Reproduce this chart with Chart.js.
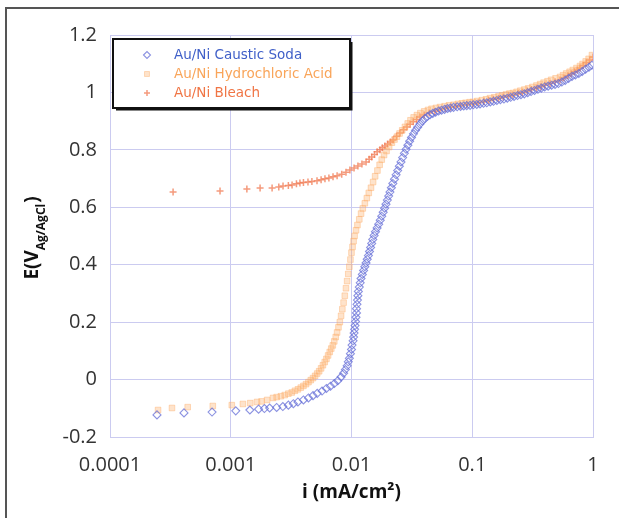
<!DOCTYPE html>
<html>
<head>
<meta charset="utf-8">
<script src="https://cdn.jsdelivr.net/npm/chart.js@4.4.1/dist/chart.umd.min.js"></script>
<style>
  html, body { margin: 0; padding: 0; background: #fff; }
  #wrap { width: 619px; height: 518px; position: relative; }
</style>
</head>
<body>
<div id="wrap"><canvas id="polar" width="619" height="518"></canvas></div>
<script>
// i (mA/cm2), E (V vs Ag/AgCl)
const causticSoda = [
  [0.000245,-0.123],[0.00041,-0.116],[0.0007,-0.113],[0.0011,-0.109],[0.00144,-0.106],
  [0.0017,-0.103],[0.0019,-0.101],[0.0021,-0.099],[0.0024,-0.097],[0.0027,-0.094],
  [0.003,-0.089],[0.0033,-0.084],[0.0036,-0.078],[0.004,-0.071],[0.0044,-0.064],
  [0.0048,-0.056],[0.0052,-0.048],[0.0057,-0.040],[0.0062,-0.031],[0.0067,-0.023],
  [0.0072,-0.014],[0.0077,-0.004],[0.0082,0.009],[0.0086,0.022],[0.0089,0.035],
  [0.0092,0.048],[0.0094,0.062],[0.0096,0.074],[0.0098,0.090],[0.0100,0.105],
  [0.0101,0.120],[0.0103,0.135],[0.0104,0.148],[0.0105,0.162],[0.0106,0.175],
  [0.0107,0.188],[0.0108,0.202],[0.0109,0.217],[0.0110,0.232],[0.0110,0.247],
  [0.0111,0.262],[0.0112,0.277],[0.0113,0.292],[0.0114,0.307],[0.0116,0.322],
  [0.0118,0.337],[0.0120,0.352],[0.0123,0.366],[0.0126,0.380],[0.0129,0.393],
  [0.0132,0.406],[0.0135,0.419],[0.0138,0.432],[0.0141,0.446],[0.0144,0.460],
  [0.0147,0.474],[0.0150,0.488],[0.0154,0.502],[0.0158,0.515],[0.0163,0.528],
  [0.0168,0.541],[0.0173,0.555],[0.0178,0.569],[0.0183,0.583],[0.0188,0.597],
  [0.0193,0.611],[0.0198,0.625],[0.0203,0.639],[0.0208,0.653],[0.0214,0.668],
  [0.022,0.683],[0.0227,0.698],[0.0234,0.713],[0.0241,0.728],[0.0249,0.743],
  [0.0257,0.758],[0.0265,0.773],[0.0274,0.788],[0.0283,0.802],[0.0293,0.816],
  [0.0303,0.830],[0.0314,0.843],[0.0326,0.856],[0.0339,0.868],[0.0353,0.879],
  [0.0369,0.890],[0.0386,0.900],[0.0405,0.909],[0.0425,0.916],[0.0447,0.922],
  [0.0471,0.927],[0.0497,0.931],[0.0526,0.935],[0.0557,0.938],[0.059,0.941],
  [0.0625,0.944],[0.066,0.946],[0.07,0.948],[0.075,0.950],[0.08,0.951],
  [0.085,0.953],[0.09,0.954],[0.096,0.955],[0.102,0.957],[0.109,0.958],
  [0.116,0.960],[0.124,0.962],[0.132,0.964],[0.141,0.967],[0.15,0.969],
  [0.16,0.972],[0.171,0.975],[0.183,0.977],[0.195,0.980],[0.208,0.983],
  [0.222,0.986],[0.237,0.989],[0.253,0.992],[0.27,0.995],[0.288,0.999],
  [0.307,1.003],[0.328,1.007],[0.35,1.011],[0.373,1.015],[0.398,1.019],
  [0.425,1.022],[0.454,1.025],[0.485,1.028],[0.517,1.031],[0.552,1.036],
  [0.589,1.042],[0.628,1.049],[0.67,1.056],[0.715,1.061],[0.763,1.066],
  [0.814,1.073],[0.868,1.081],[0.926,1.088],[0.98,1.095]
];

const hydrochloric = [
  [0.00025,-0.106],[0.000326,-0.099],[0.00044,-0.096],[0.00071,-0.092],[0.00102,-0.089],
  [0.00126,-0.085],[0.00145,-0.082],[0.00165,-0.078],[0.0018,-0.076],[0.002,-0.071],
  [0.00224,-0.064],[0.0024,-0.061],[0.0026,-0.058],[0.0028,-0.054],[0.003,-0.049],
  [0.0032,-0.045],[0.0034,-0.039],[0.0036,-0.034],[0.0038,-0.028],[0.004,-0.022],
  [0.0042,-0.016],[0.0044,-0.009],[0.0046,-0.002],[0.0048,0.005],[0.005,0.013],
  [0.0052,0.021],[0.0054,0.029],[0.0056,0.039],[0.0058,0.050],[0.006,0.061],
  [0.0062,0.072],[0.0064,0.084],[0.0066,0.096],[0.0068,0.108],[0.007,0.119],
  [0.0072,0.133],[0.0074,0.148],[0.0076,0.164],[0.0078,0.182],[0.008,0.200],
  [0.0082,0.222],[0.0084,0.245],[0.0086,0.268],[0.0088,0.292],[0.009,0.318],
  [0.0092,0.343],[0.0094,0.368],[0.0096,0.393],[0.0098,0.418],[0.01,0.442],
  [0.0102,0.462],[0.0104,0.482],[0.0106,0.500],[0.0109,0.520],[0.0112,0.538],
  [0.0116,0.558],[0.012,0.578],[0.0124,0.596],[0.0129,0.614],[0.0134,0.632],
  [0.0139,0.650],[0.0145,0.668],[0.0151,0.688],[0.0157,0.708],[0.0164,0.728],
  [0.0171,0.748],[0.0178,0.766],[0.0186,0.782],[0.0195,0.796],[0.0205,0.810],
  [0.0216,0.825],[0.0227,0.836],[0.0238,0.846],[0.025,0.857],[0.0263,0.868],
  [0.0277,0.880],[0.0292,0.892],[0.0308,0.903],[0.0327,0.913],[0.0348,0.921],
  [0.0372,0.928],[0.04,0.934],[0.043,0.939],[0.046,0.943],[0.05,0.946],
  [0.054,0.949],[0.059,0.952],[0.064,0.955],[0.07,0.957],[0.076,0.960],
  [0.082,0.962],[0.088,0.964],[0.095,0.966],[0.101,0.967],[0.11,0.970],
  [0.12,0.973],[0.13,0.976],[0.14,0.980],[0.152,0.983],[0.165,0.987],
  [0.177,0.990],[0.19,0.993],[0.203,0.996],[0.217,0.998],[0.233,1.002],
  [0.25,1.006],[0.27,1.010],[0.29,1.014],[0.315,1.019],[0.34,1.024],
  [0.365,1.029],[0.39,1.034],[0.42,1.039],[0.45,1.044],[0.49,1.049],
  [0.533,1.054],[0.565,1.060],[0.6,1.066],[0.64,1.072],[0.68,1.078],
  [0.73,1.085],[0.78,1.092],[0.82,1.099],[0.87,1.108],[0.92,1.117],[0.98,1.130]
];

const bleach = [
  [0.000333,0.653],[0.000815,0.657],[0.00136,0.664],[0.00175,0.667],[0.0022,0.667],
  [0.0025,0.671],[0.00271,0.674],[0.0030,0.676],[0.00322,0.678],[0.0035,0.682],
  [0.00374,0.685],[0.0040,0.686],[0.00436,0.688],[0.0047,0.690],[0.00518,0.692],
  [0.0056,0.696],[0.00603,0.699],[0.0065,0.702],[0.00703,0.706],[0.0076,0.710],
  [0.0083,0.715],[0.009,0.722],[0.0097,0.730],[0.0105,0.737],[0.0113,0.744],
  [0.0122,0.751],[0.0132,0.758],[0.014,0.767],[0.0147,0.775],[0.0155,0.784],
  [0.0163,0.793],[0.0172,0.800],[0.018,0.807],[0.0189,0.813],[0.0199,0.820],
  [0.021,0.827],[0.0221,0.834],[0.0236,0.847],[0.0252,0.859],[0.027,0.870],
  [0.0288,0.880],[0.0306,0.889],[0.0325,0.898],[0.0347,0.906],[0.0369,0.914],
  [0.040,0.921],[0.044,0.928],[0.049,0.934],[0.054,0.939],[0.06,0.944],
  [0.066,0.948],[0.073,0.951],[0.08,0.954],[0.09,0.957],[0.101,0.960],
  [0.112,0.964],[0.125,0.968],[0.137,0.972],[0.15,0.976],[0.165,0.980],
  [0.18,0.984],[0.2,0.988],[0.217,0.991],[0.24,0.996],[0.26,1.000],
  [0.285,1.005],[0.31,1.010],[0.34,1.015],[0.37,1.020],[0.4,1.025],
  [0.44,1.031],[0.485,1.037],[0.533,1.043],[0.575,1.050],[0.62,1.058],
  [0.66,1.065],[0.7,1.072],[0.74,1.078],[0.78,1.085],[0.83,1.094],
  [0.88,1.103],[0.94,1.113],[1.0,1.123]
];

const seriesNames = ["Au/Ni Caustic Soda", "Au/Ni Hydrochloric Acid", "Au/Ni Bleach"];
const xTicks = [0.0001, 0.001, 0.01, 0.1, 1];
const yTicks = [-0.2, 0, 0.2, 0.4, 0.6, 0.8, 1, 1.2];

const GRID = "#cbcbf0";
const TICK_FONT = { family: "'Open Sans', sans-serif", size: 20 };

function toPoints(arr) {
  return arr.map(p => ({ x: p[0], y: p[1] }));
}

const datasets = [
  {
    label: seriesNames[0],
    data: toPoints(causticSoda),
    pointStyle: "rectRot",
    pointRadius: 4,
    borderWidth: 1.1,
    borderColor: "rgba(100,110,215,0.75)",
    backgroundColor: "rgba(255,255,255,0)",
    textColor: "#3f5fc8"
  },
  {
    label: seriesNames[1],
    data: toPoints(hydrochloric),
    pointStyle: "rect",
    pointRadius: 4,
    borderWidth: 1,
    borderColor: "rgba(252,170,100,0.4)",
    backgroundColor: "rgba(252,175,105,0.35)",
    textColor: "#f9a55a"
  },
  {
    label: seriesNames[2],
    data: toPoints(bleach),
    pointStyle: "cross",
    pointRadius: 3.5,
    borderWidth: 1.5,
    borderColor: "rgba(240,120,80,0.75)",
    backgroundColor: "rgba(240,120,80,0.75)",
    textColor: "#f07545"
  }
];

const decorations = {
  id: "decorations",
  beforeDraw(chart) {
    const ctx = chart.ctx;
    ctx.save();
    ctx.strokeStyle = "#555";
    ctx.lineWidth = 2;
    ctx.beginPath();
    ctx.moveTo(6, 518);
    ctx.lineTo(6, 8);
    ctx.lineTo(619, 8);
    ctx.stroke();
    ctx.restore();
  },
  afterDraw(chart) {
    const ctx = chart.ctx;
    const area = chart.chartArea;
    ctx.save();

    // x title
    ctx.fillStyle = "#111";
    ctx.font = "bold 19px 'Open Sans', sans-serif";
    ctx.textAlign = "center";
    ctx.textBaseline = "alphabetic";
    ctx.fillText("i (mA/cm²)", (area.left + area.right) / 2, 498);

    // y title, rotated with subscript
    const big = "bold 19px 'Open Sans', sans-serif";
    const small = "bold 12px 'Open Sans', sans-serif";
    ctx.font = big;
    const w1 = ctx.measureText("E(V").width;
    const w3 = ctx.measureText(")").width;
    ctx.font = small;
    const w2 = ctx.measureText("Ag/AgCl").width;
    const total = w1 + w2 + w3 + 1;
    const cy = 238;
    ctx.translate(38, cy + total / 2);
    ctx.rotate(-Math.PI / 2);
    ctx.textAlign = "left";
    ctx.font = big;
    ctx.fillText("E(V", 0, 0);
    ctx.font = small;
    ctx.fillText("Ag/AgCl", w1, 7);
    ctx.font = big;
    ctx.fillText(")", w1 + w2 + 1, 0);
    ctx.setTransform(1, 0, 0, 1, 0, 0);

    // legend box
    const lx = 113, ly = 39, lw = 237, lh = 69;
    ctx.fillStyle = "#fff";
    ctx.fillRect(lx, ly, lw, lh);
    ctx.strokeStyle = "#111";
    ctx.lineWidth = 2;
    ctx.strokeRect(lx, ly, lw, lh);
    ctx.beginPath();
    ctx.moveTo(lx + 3, ly + lh + 1.5);
    ctx.lineTo(lx + lw + 1.5, ly + lh + 1.5);
    ctx.lineTo(lx + lw + 1.5, ly + 3);
    ctx.stroke();

    ctx.font = "13.5px 'DejaVu Sans', sans-serif";
    ctx.textBaseline = "middle";
    const rows = [55, 74, 93];
    chart.data.datasets.forEach((ds, i) => {
      ctx.strokeStyle = ds.borderColor;
      ctx.fillStyle = ds.backgroundColor;
      ctx.lineWidth = ds.borderWidth;
      Chart.helpers.drawPoint(ctx, {
        pointStyle: ds.pointStyle,
        radius: ds.pointRadius - 0.5,
        rotation: 0,
        borderWidth: ds.borderWidth
      }, 147, rows[i]);
      ctx.fillStyle = ds.textColor;
      ctx.fillText(ds.label, 174, rows[i]);
    });
    ctx.restore();
  }
};

new Chart(document.getElementById("polar"), {
  type: "scatter",
  data: { datasets },
  options: {
    responsive: false,
    animation: false,
    devicePixelRatio: 1,
    layout: { padding: { top: 35, right: 26, left: 0, bottom: 0 } },
    plugins: { legend: { display: false }, tooltip: { enabled: false } },
    scales: {
      x: {
        type: "logarithmic",
        min: 0.0001,
        max: 1,
        afterBuildTicks: s => { s.ticks = xTicks.map(v => ({ value: v })); },
        afterFit: s => { s.height = 81; s.paddingLeft = 0; s.paddingRight = 0; },
        ticks: {
          color: "#333",
          font: TICK_FONT,
          padding: 16,
          maxRotation: 0,
          autoSkip: false,
          callback: v => String(v)
        },
        grid: { color: GRID, lineWidth: 1, drawTicks: false },
        border: { color: GRID, width: 1 }
      },
      y: {
        type: "linear",
        min: -0.2,
        max: 1.2,
        afterBuildTicks: s => { s.ticks = yTicks.map(v => ({ value: v })); },
        afterFit: s => { s.width = 110; s.paddingTop = 0; s.paddingBottom = 0; },
        ticks: {
          color: "#333",
          font: TICK_FONT,
          padding: 13,
          autoSkip: false,
          callback: v => String(Math.round(v * 10) / 10)
        },
        grid: { color: GRID, lineWidth: 1, drawTicks: false },
        border: { color: GRID, width: 1 }
      }
    }
  },
  plugins: [decorations]
});
</script>
</body>
</html>
